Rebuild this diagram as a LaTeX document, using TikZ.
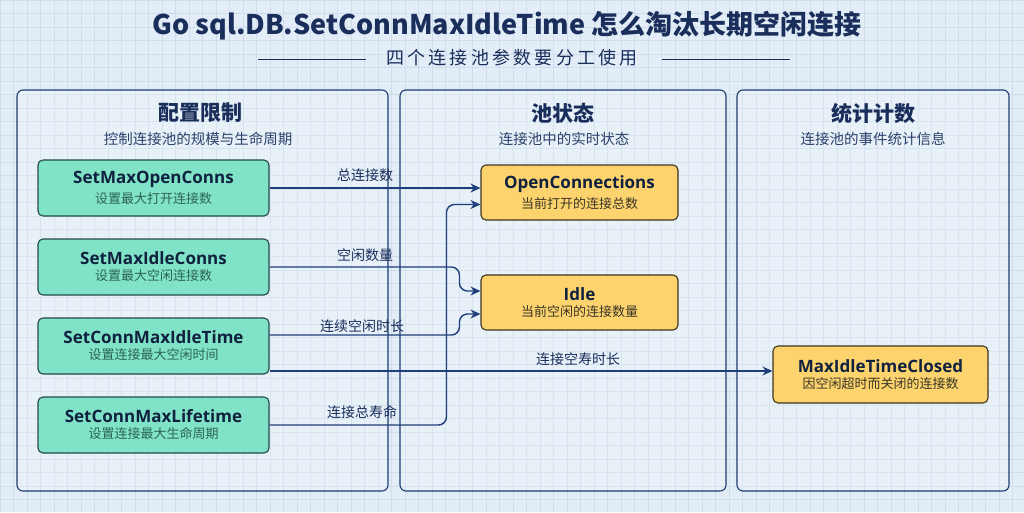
\documentclass[tikz,border=0pt]{standalone}
\usepackage{fontspec}
\setmainfont{Noto Sans CJK SC}
\newfontfamily\latinf{Open Sans}
\usetikzlibrary{arrows.meta,calc}
\definecolor{bgc}{HTML}{E3EDF7}
\definecolor{gridc}{HTML}{CFDDEC}
\definecolor{navy}{HTML}{1A2E5C}
\definecolor{subnavy}{HTML}{2C416B}
\definecolor{panelc}{HTML}{1E3C72}
\definecolor{arrowc}{HTML}{1F3F7C}
\definecolor{greenf}{HTML}{80E2C6}
\definecolor{greend}{HTML}{234A48}
\definecolor{greent}{HTML}{2C6456}
\definecolor{gtitle}{HTML}{10213F}
\definecolor{yellowf}{HTML}{FDD36D}
\definecolor{yellowd}{HTML}{3D3522}
\definecolor{yellowt}{HTML}{3A3528}
\newcommand{\bt}[1]{{\latinf\bfseries\fontsize{17}{20}\selectfont\color{gtitle}#1}}
\newcommand{\gs}[1]{{\fontsize{13}{16}\selectfont\color{greent}#1}}
\newcommand{\ys}[1]{{\fontsize{13}{16}\selectfont\color{yellowt}#1}}
\begin{document}
\begin{tikzpicture}[x=1pt,y=-1pt,
  panel/.style={draw=panelc, line width=1.1pt, rounded corners=6pt, fill=white, fill opacity=0.18, text opacity=1, inner sep=0pt},
  gbox/.style={draw=greend, line width=1.1pt, rounded corners=5pt, fill=greenf, minimum width=231pt, minimum height=56pt, align=center, inner sep=0pt},
  ybox/.style={draw=yellowd, line width=1.1pt, rounded corners=5pt, fill=yellowf, minimum height=55pt, align=center, inner sep=0pt},
  heading/.style={font=\bfseries\fontsize{21}{24}\selectfont, text=navy},
  phsub/.style={font=\fontsize{14.5}{17}\selectfont, text=subnavy},
  lab/.style={font=\fontsize{14}{16}\selectfont, text=navy, inner sep=1pt},
  conn/.style={draw=arrowc, line width=1.4pt, rounded corners=8pt, -{Stealth[length=10pt,width=9pt]}},
  deco/.style={draw=navy, line width=1.1pt}
]
\useasboundingbox (0,0) rectangle (1024,512);
\fill[bgc] (0,0) rectangle (1024,512);
\foreach \i in {0,...,76} { \draw[gridc, line width=0.5pt] (\i*13.5,0) -- (\i*13.5,512); }
\foreach \j in {0,...,38} { \draw[gridc, line width=0.5pt] (0,\j*13.5) -- (1024,\j*13.5); }

% title
\node[font=\bfseries\fontsize{27}{30}\selectfont, text=navy] (title) at (507,26) {Go sql.DB.SetConnMaxIdleTime 怎么淘汰长期空闲连接};
\node[font=\fontsize{18}{20}\selectfont\addfontfeature{LetterSpace=18}, text=navy] (subt) at (512,58) {四个连接池参数要分工使用};
\coordinate (la) at (258,59.5);
\coordinate (lb) at (366,59.5);
\coordinate (lc) at (662,59.5);
\coordinate (ld) at (790,59.5);
\draw[deco] (la) -- (lb);
\draw[deco] (lc) -- (ld);

% panels
\node[panel, minimum width=371pt, minimum height=401pt] (p1) at (202.5,290.5) {};
\node[panel, minimum width=326pt, minimum height=401pt] (p2) at (563,290.5) {};
\node[panel, minimum width=272pt, minimum height=401pt] (p3) at (873,290.5) {};

\node[heading] (h1) at (200,113) {配置限制};
\node[phsub] (s1) at (198,139) {控制连接池的规模与生命周期};
\node[heading] (h2) at (563,113) {池状态};
\node[phsub] (s2) at (564,139) {连接池中的实时状态};
\node[heading] (h3) at (873,113) {统计计数};
\node[phsub] (s3) at (873,139) {连接池的事件统计信息};

% green boxes
\node[gbox] (b1) at (153.5,188) {\bt{SetMaxOpenConns}\\[4pt]\gs{设置最大打开连接数}};
\node[gbox] (b2) at (153.5,267) {\bt{SetMaxIdleConns}\\[4pt]\gs{设置最大空闲连接数}};
\node[gbox] (b3) at (153.5,346) {\bt{SetConnMaxIdleTime}\\[4pt]\gs{设置连接最大空闲时间}};
\node[gbox] (b4) at (153.5,425) {\bt{SetConnMaxLifetime}\\[4pt]\gs{设置连接最大生命周期}};

% yellow boxes
\node[ybox, minimum width=197pt] (oc) at (579.5,192.5) {\bt{OpenConnections}\\[4pt]\ys{当前打开的连接总数}};
\node[ybox, minimum width=197pt] (idle) at (579.5,302.5) {\bt{Idle}\\[4pt]\ys{当前空闲的连接数量}};
\node[ybox, minimum width=215pt, minimum height=57pt] (mit) at (880.5,374.5) {\bt{MaxIdleTimeClosed}\\[4pt]\ys{因空闲超时而关闭的连接数}};

% connector end points
\coordinate (oc2) at ($(oc.west)+(0,12)$);
\coordinate (i1) at ($(idle.west)+(0,-11.5)$);
\coordinate (i2) at ($(idle.west)+(0,11.5)$);
\coordinate (b3a) at ($(b3.east)+(0,-11)$);
\coordinate (b3b) at ($(b3.east)+(0,25)$);

% connectors
\draw[conn] (b1.east) -- (b1.east -| oc.west);
\draw[conn] (b2.east) -| ([xshift=-21pt]i1) -- (i1);
\draw[conn] (b3a) -| ([xshift=-21pt]i2) -- (i2);
\draw[conn] (b3b) -- (b3b -| mit.west);
\draw[conn] (b4.east) -| ([xshift=-34pt]oc2) -- (oc2);

% labels
\node[lab] (t1) at (365,175) {总连接数};
\node[lab] (t2) at (365,255) {空闲数量};
\node[lab] (t3) at (362,326) {连续空闲时长};
\node[lab] (t4) at (578,359) {连接空寿时长};
\node[lab] (t5) at (362,412) {连接总寿命};
\end{tikzpicture}
\end{document}
